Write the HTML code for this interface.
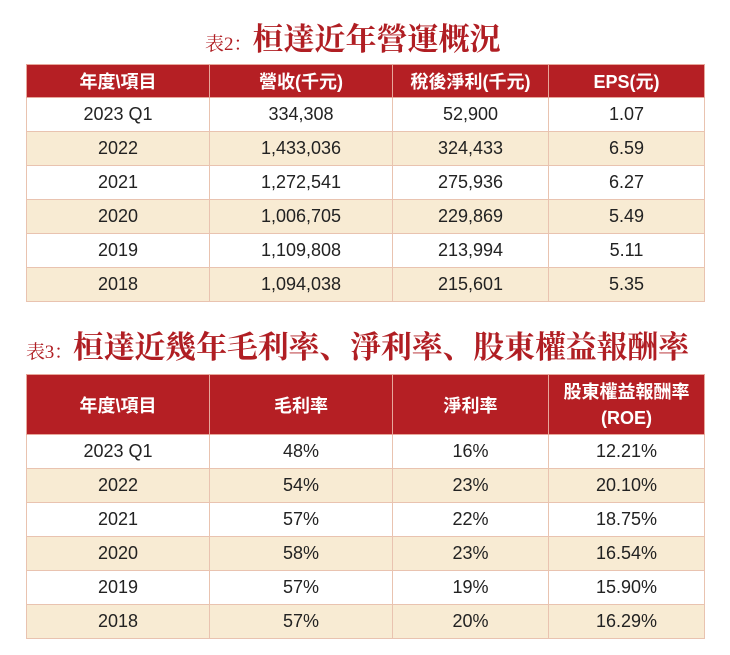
<!DOCTYPE html>
<html><head><meta charset="utf-8"><style>
body{margin:0;width:730px;height:655px;background:#fff;position:relative;overflow:hidden;font-family:"Liberation Sans","Noto Sans CJK TC",sans-serif}
.t{position:absolute;color:#b01e23;font-family:"Liberation Serif","Noto Serif CJK SC",serif;font-weight:bold;white-space:nowrap}
.t small{font-size:19px;font-weight:normal}
table{position:absolute;left:26px;width:678px;border-collapse:collapse;table-layout:fixed}
td,th{text-align:center;padding:0;border:1px solid #e9c3b0;font-size:18px;color:#222}
th{background:#b51f24;color:#fff;font-weight:bold;font-size:18px;border-color:#e7a79b}
tr:nth-child(odd) td{background:#f8ebd3}
td{height:33px}
</style></head><body>
<div class="t" style="left:205px;top:14px;font-size:31px"><small>表2：</small>桓達近年營運概況</div>
<table style="top:64px">
<colgroup><col style="width:183px"><col style="width:183px"><col style="width:156px"><col style="width:156px"></colgroup>
<tr><th style="height:32px">年度\項目</th><th>營收(千元)</th><th>稅後淨利(千元)</th><th>EPS(元)</th></tr>
<tr><td>2023 Q1</td><td>334,308</td><td>52,900</td><td>1.07</td></tr>
<tr><td>2022</td><td>1,433,036</td><td>324,433</td><td>6.59</td></tr>
<tr><td>2021</td><td>1,272,541</td><td>275,936</td><td>6.27</td></tr>
<tr><td>2020</td><td>1,006,705</td><td>229,869</td><td>5.49</td></tr>
<tr><td>2019</td><td>1,109,808</td><td>213,994</td><td>5.11</td></tr>
<tr><td>2018</td><td>1,094,038</td><td>215,601</td><td>5.35</td></tr>
</table>
<div class="t" style="left:26px;top:322px;font-size:31px;letter-spacing:-0.2px"><small>表3：</small>桓達近幾年毛利率、淨利率、股東權益報酬率</div>
<table style="top:374px">
<colgroup><col style="width:183px"><col style="width:183px"><col style="width:156px"><col style="width:156px"></colgroup>
<tr><th style="height:59px">年度\項目</th><th>毛利率</th><th>淨利率</th><th style="line-height:26px">股東權益報酬率<br>(ROE)</th></tr>
<tr><td>2023 Q1</td><td>48%</td><td>16%</td><td>12.21%</td></tr>
<tr><td>2022</td><td>54%</td><td>23%</td><td>20.10%</td></tr>
<tr><td>2021</td><td>57%</td><td>22%</td><td>18.75%</td></tr>
<tr><td>2020</td><td>58%</td><td>23%</td><td>16.54%</td></tr>
<tr><td>2019</td><td>57%</td><td>19%</td><td>15.90%</td></tr>
<tr><td>2018</td><td>57%</td><td>20%</td><td>16.29%</td></tr>
</table>
</body></html>
